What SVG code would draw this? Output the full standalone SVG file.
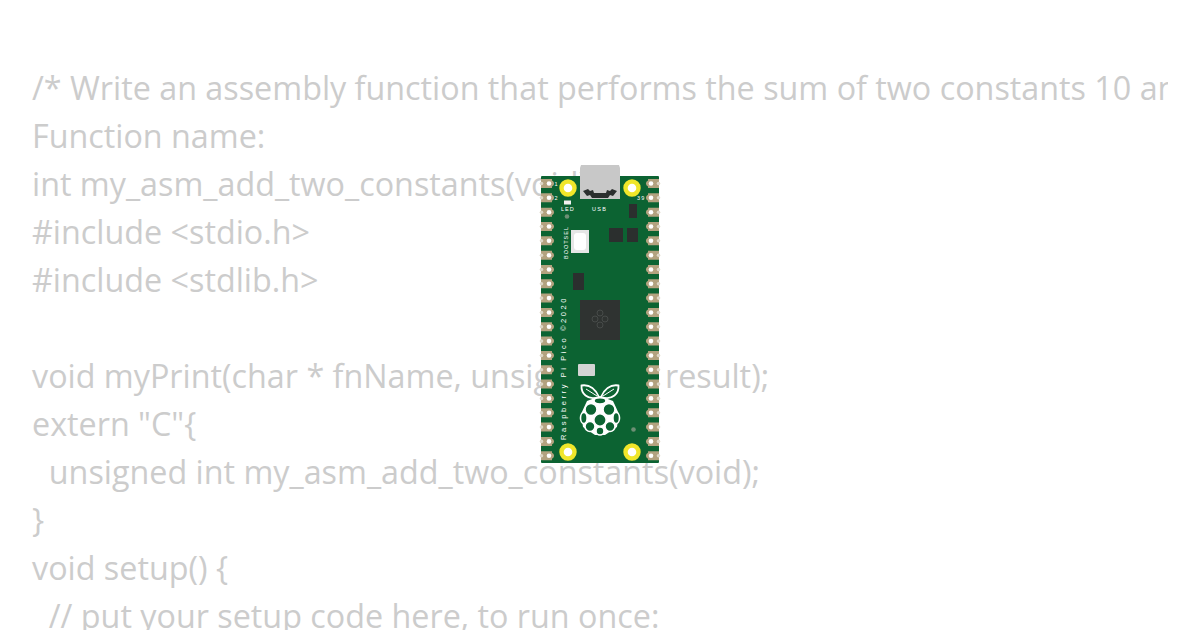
<svg xmlns="http://www.w3.org/2000/svg" width="1200" height="630" viewBox="0 0 1200 630">
<style>
.code{font-family:"Open Sans","Noto Sans",sans-serif;font-size:32.3px;fill:#cccccc;white-space:pre}
.silk{font-family:"Liberation Sans",Arial,sans-serif;fill:#fff;font-size:5.500px;letter-spacing:1.1px}
.chip{fill:#2b2f2e}
.leaf{fill:#0c6332;stroke:#fff;stroke-width:1.8}
.berry{fill:#0c6332;stroke:#fff;stroke-width:1.6}
</style>
<defs>
<clipPath id="clip"><rect x="0" y="0" width="1168" height="630"/></clipPath>
<g id="pinL"><path d="M541 -4.5H552V-3A3.200 3.200 0 0 1 552 3V4.500H541Z" fill="#b3a27f"/><circle cx="541.500" cy="0" r="1.800" fill="#ddd6c6"/><circle cx="549" cy="0" r="2.300" fill="#fff"/></g>
<g id="pinR"><path d="M659 -4.5H648V-3A3.200 3.200 0 0 0 648 3V4.500H659Z" fill="#b3a27f"/><circle cx="658.500" cy="0" r="1.800" fill="#ddd6c6"/><circle cx="651" cy="0" r="2.300" fill="#fff"/></g>
</defs>
<rect width="1200" height="630" fill="#fff"/>
<g id="code" clip-path="url(#clip)">
<text class="code" x="32" y="100">/* Write an assembly function that performs the sum of two constants 10 an</text>
<text class="code" x="32" y="148">Function name:</text>
<text class="code" x="32" y="196">int my_asm_add_two_constants(void)</text>
<text class="code" x="32" y="244">#include &lt;stdio.h&gt;</text>
<text class="code" x="32" y="292">#include &lt;stdlib.h&gt;</text>
<text class="code" x="32" y="388">void myPrint(char * fnName, unsigned int result);</text>
<text class="code" x="32" y="436">extern "C"{</text>
<text class="code" x="32" y="484">  unsigned int my_asm_add_two_constants(void);</text>
<text class="code" x="32" y="532">}</text>
<text class="code" x="32" y="580">void setup() {</text>
<text class="code" x="32" y="628">  // put your setup code here, to run once:</text>
</g>
<g id="connectors"></g>
<g id="pico">
<rect x="541" y="176" width="118" height="287" rx="1" fill="#0c6332"/>
<g id="pins-left">
<use href="#pinL" y="183.500"/><use href="#pinL" y="197.800"/><use href="#pinL" y="212.200"/><use href="#pinL" y="226.500"/><use href="#pinL" y="240.800"/><use href="#pinL" y="255.200"/><use href="#pinL" y="269.500"/><use href="#pinL" y="283.800"/><use href="#pinL" y="298.100"/><use href="#pinL" y="312.500"/><use href="#pinL" y="326.800"/><use href="#pinL" y="341.100"/><use href="#pinL" y="355.500"/><use href="#pinL" y="369.800"/><use href="#pinL" y="384.100"/><use href="#pinL" y="398.400"/><use href="#pinL" y="412.800"/><use href="#pinL" y="427.100"/><use href="#pinL" y="441.400"/><use href="#pinL" y="455.700"/>
</g>
<g id="pins-right">
<use href="#pinR" y="183.500"/><use href="#pinR" y="197.800"/><use href="#pinR" y="212.200"/><use href="#pinR" y="226.500"/><use href="#pinR" y="240.800"/><use href="#pinR" y="255.200"/><use href="#pinR" y="269.500"/><use href="#pinR" y="283.800"/><use href="#pinR" y="298.100"/><use href="#pinR" y="312.500"/><use href="#pinR" y="326.800"/><use href="#pinR" y="341.100"/><use href="#pinR" y="355.500"/><use href="#pinR" y="369.800"/><use href="#pinR" y="384.100"/><use href="#pinR" y="398.400"/><use href="#pinR" y="412.800"/><use href="#pinR" y="427.100"/><use href="#pinR" y="441.400"/><use href="#pinR" y="455.700"/>
</g>
<g id="mount-holes" fill="#fff" stroke="#f0e62a" stroke-width="4.400">
<circle cx="568" cy="188" r="6.500"/><circle cx="632" cy="188" r="6.500"/><circle cx="568" cy="452" r="6.500"/><circle cx="632" cy="452" r="6.500"/>
</g>
<g id="usb">
<path d="M581 165H619L620 168V199H580V168Z" fill="#c8c8c8"/>
<path d="M583 191L588 189L590 191L593 190L594 193H606L607 190L610 191L612 189L617 191L613 196L610 195L608 198H592L590 195L587 196Z" fill="#2b2f2e"/>
</g>
<g id="parts">
<rect x="564" y="200.500" width="7" height="4" fill="#f2f2f2"/>
<circle cx="567" cy="216.500" r="2.300" fill="#6d8f74"/>
<rect x="571" y="230" width="18" height="23" fill="#e6e6e6"/><rect x="574" y="233" width="12" height="17" rx="3" fill="#fff"/>
<rect x="629" y="204" width="8" height="14" class="chip"/>
<rect x="609" y="228" width="14" height="14" class="chip"/>
<rect x="627" y="228" width="11" height="14" class="chip"/>
<rect x="573" y="273" width="11" height="17" class="chip"/>
<rect x="580" y="300" width="40" height="40" fill="#2f3331"/>
<g fill="none" stroke="#474b49" stroke-width="1"><circle cx="600" cy="313" r="3"/><circle cx="595" cy="319" r="3"/><circle cx="605" cy="319" r="3"/><circle cx="600" cy="325" r="3"/></g>
<rect x="578" y="364" width="17" height="12" rx="1" fill="#d4d4d4"/>
<circle cx="633.500" cy="429.500" r="2.300" fill="#6d8f74"/>
</g>
<g id="logo">
<path class="leaf" d="M599 397C596 390 590 384 581.500 385.500C581 393 587 401 599 397Z"/>
<path class="leaf" d="M601 397C604 390 610 384 618.500 385.500C619 393 613 401 601 397Z"/>
<path d="M586 389L597 396M614 389L603 396" stroke="#fff" stroke-width="1"/>
<path d="M600 396L613 401L619 414L617 427L605 435H595L583 427L581 414L587 401Z" fill="#fff"/>
<ellipse class="berry" cx="600" cy="400.800" rx="6" ry="3.200"/>
<circle class="berry" cx="591" cy="409.500" r="6"/><circle class="berry" cx="609" cy="409.500" r="6"/>
<ellipse class="berry" cx="583.800" cy="418" rx="3.300" ry="5.500"/><ellipse class="berry" cx="616.200" cy="418" rx="3.300" ry="5.500"/>
<circle class="berry" cx="600" cy="420" r="6.200"/>
<circle class="berry" cx="590" cy="426.500" r="5"/><circle class="berry" cx="610" cy="426.500" r="5"/>
<circle class="berry" cx="600" cy="431" r="4"/>
</g>
<g id="silkscreen">
<text class="silk" x="554.500" y="186">1</text>
<text class="silk" x="554.500" y="200">2</text>
<text class="silk" x="637" y="200" style="letter-spacing:1.300px">39</text>
<text class="silk" x="561" y="211" style="letter-spacing:1.000px">LED</text>
<text class="silk" x="592" y="211" style="letter-spacing:1.300px">USB</text>
<text class="silk" transform="translate(567.500,259) rotate(-90)" style="letter-spacing:1.000px">BOOTSEL</text>
<text class="silk" transform="translate(566,440) rotate(-90)" style="font-size:7.500px;letter-spacing:2.600px">Raspberry Pi Pico ©2020</text>
</g>
</g>
</svg>
